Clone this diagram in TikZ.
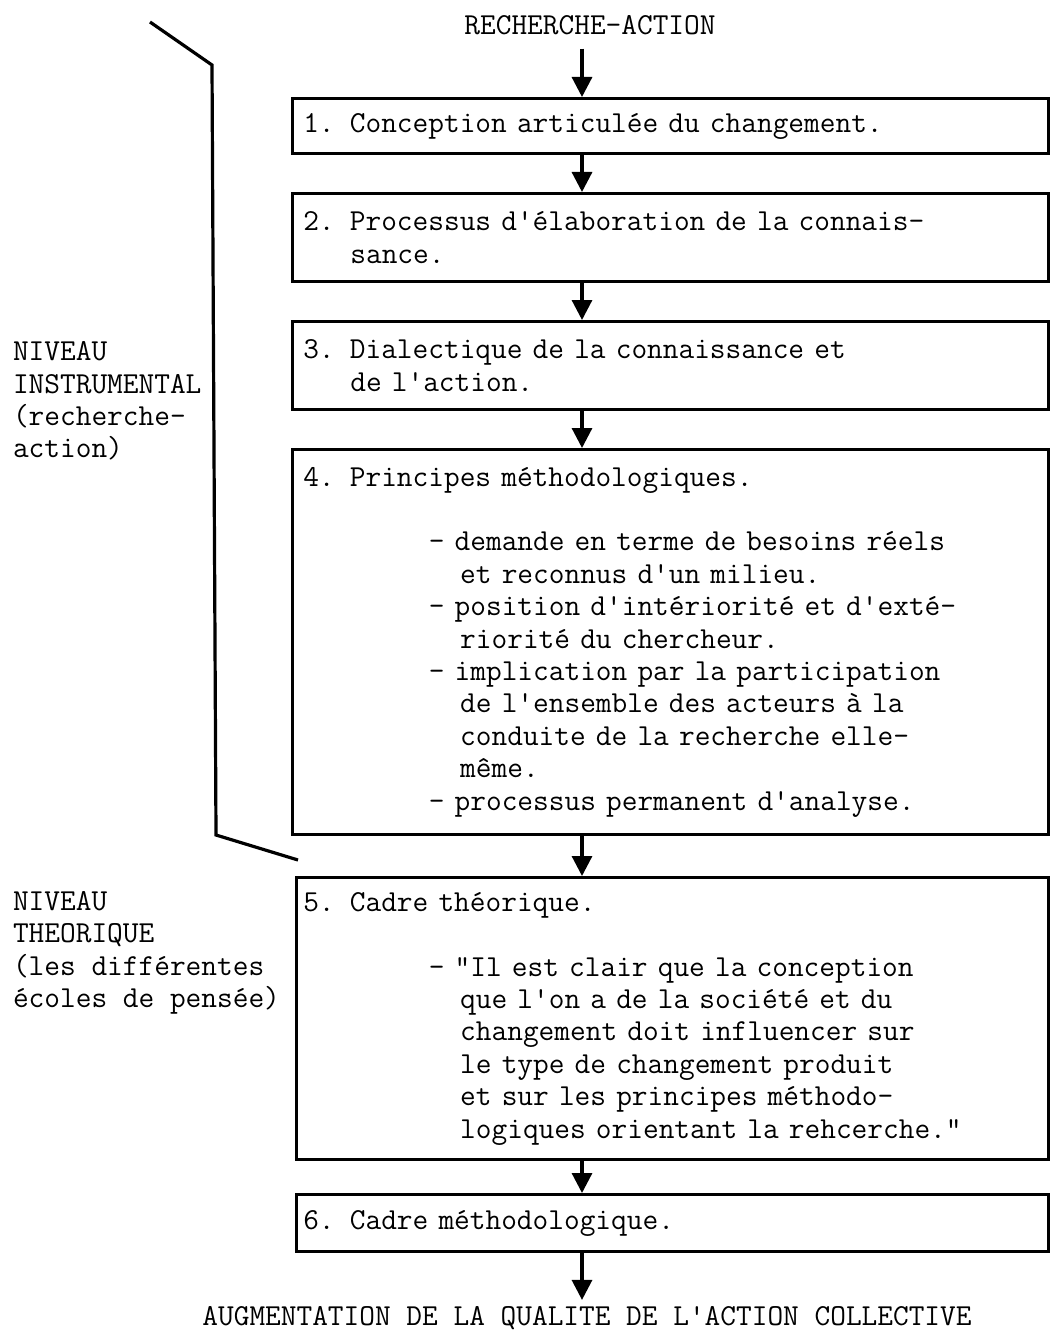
\documentclass[tikz,border=0pt]{standalone}
\usepackage{fontspec}
\usetikzlibrary{arrows.meta}

\newcommand\tw{\ttfamily\fontsize{22.86}{24.3}\selectfont}
\newcommand\ind[1]{\hspace*{#1\fontcharwd\font`x}}

\begin{document}
\begin{tikzpicture}[x=0.75pt, y=-0.75pt, line width=2.4pt,
        every node/.style={font=\tw},
        etape/.style={draw, anchor=north west, align=left, inner xsep=8pt,
            text width=551pt, minimum width=567pt},
        etapeb/.style={etape, inner xsep=5pt, text width=554pt, minimum width=564pt},
        fleche/.style={-{Triangle[width=15pt,length=15pt]}}]
    \useasboundingbox (0,0) rectangle (1050,1334);
    \coordinate (axe) at (582,0);

    % titre et but
    \node (titre) at (590,25) {RECHERCHE-ACTION};
    \node[anchor=base] (but) at (587,1325) {AUGMENTATION DE LA QUALITE DE L'ACTION COLLECTIVE};

    % les six etapes
    \node[etape, minimum height=41.25pt] (e1) at (291,97)
        {1. Conception articulée du changement.};
    \node[etape, minimum height=66pt] (e2) at (291,192)
        {2. Processus d'élaboration de la connais-\\\ind3sance.};
    \node[etape, minimum height=66pt] (e3) at (291,320)
        {3. Dialectique de la connaissance et\\\ind3de l'action.};
    \node[etape, minimum height=288.75pt] (e4) at (291,448)
        {4. Principes méthodologiques.\\[24.3pt]
         \ind8- demande en terme de besoins réels\\
         \ind{10}et reconnus d'un milieu.\\
         \ind8- position d'intériorité et d'exté-\\
         \ind{10}riorité du chercheur.\\
         \ind8- implication par la participation\\
         \ind{10}de l'ensemble des acteurs à la\\
         \ind{10}conduite de la recherche elle-\\
         \ind{10}même.\\
         \ind8- processus permanent d'analyse.};
    \node[etapeb, minimum height=211.5pt] (e5) at (295,876)
        {5. Cadre théorique.\\[24.3pt]
         \ind8- "Il est clair que la conception\\
         \ind{10}que l'on a de la société et du\\
         \ind{10}changement doit influencer sur\\
         \ind{10}le type de changement produit\\
         \ind{10}et sur les principes méthodo-\\
         \ind{10}logiques orientant la rehcerche."};
    \node[etapeb, minimum height=42.75pt] (e6) at (295,1193)
        {6. Cadre méthodologique.};

    % niveaux
    \node[anchor=west, align=left] (instr) at (7,401)
        {NIVEAU\\INSTRUMENTAL\\(recherche-\\action)};
    \node[anchor=west, align=left] (theo) at (7,953)
        {NIVEAU\\THEORIQUE\\(les différentes\\écoles de pensée)};
    \draw (150,22) -- (212,65) -- (216,835) -- (298,860);

    % fleches
    \begin{scope}[fleche]
        \draw[shorten <=6pt] (titre.south -| axe) -- (e1.north -| axe);
        \draw (e1.south -| axe) -- (e2.north -| axe);
        \draw (e2.south -| axe) -- (e3.north -| axe);
        \draw (e3.south -| axe) -- (e4.north -| axe);
        \draw (e4.south -| axe) -- (e5.north -| axe);
        \draw (e5.south -| axe) -- (e6.north -| axe);
        \draw (e6.south -| axe) -- (but.north -| axe);
    \end{scope}
\end{tikzpicture}
\end{document}
